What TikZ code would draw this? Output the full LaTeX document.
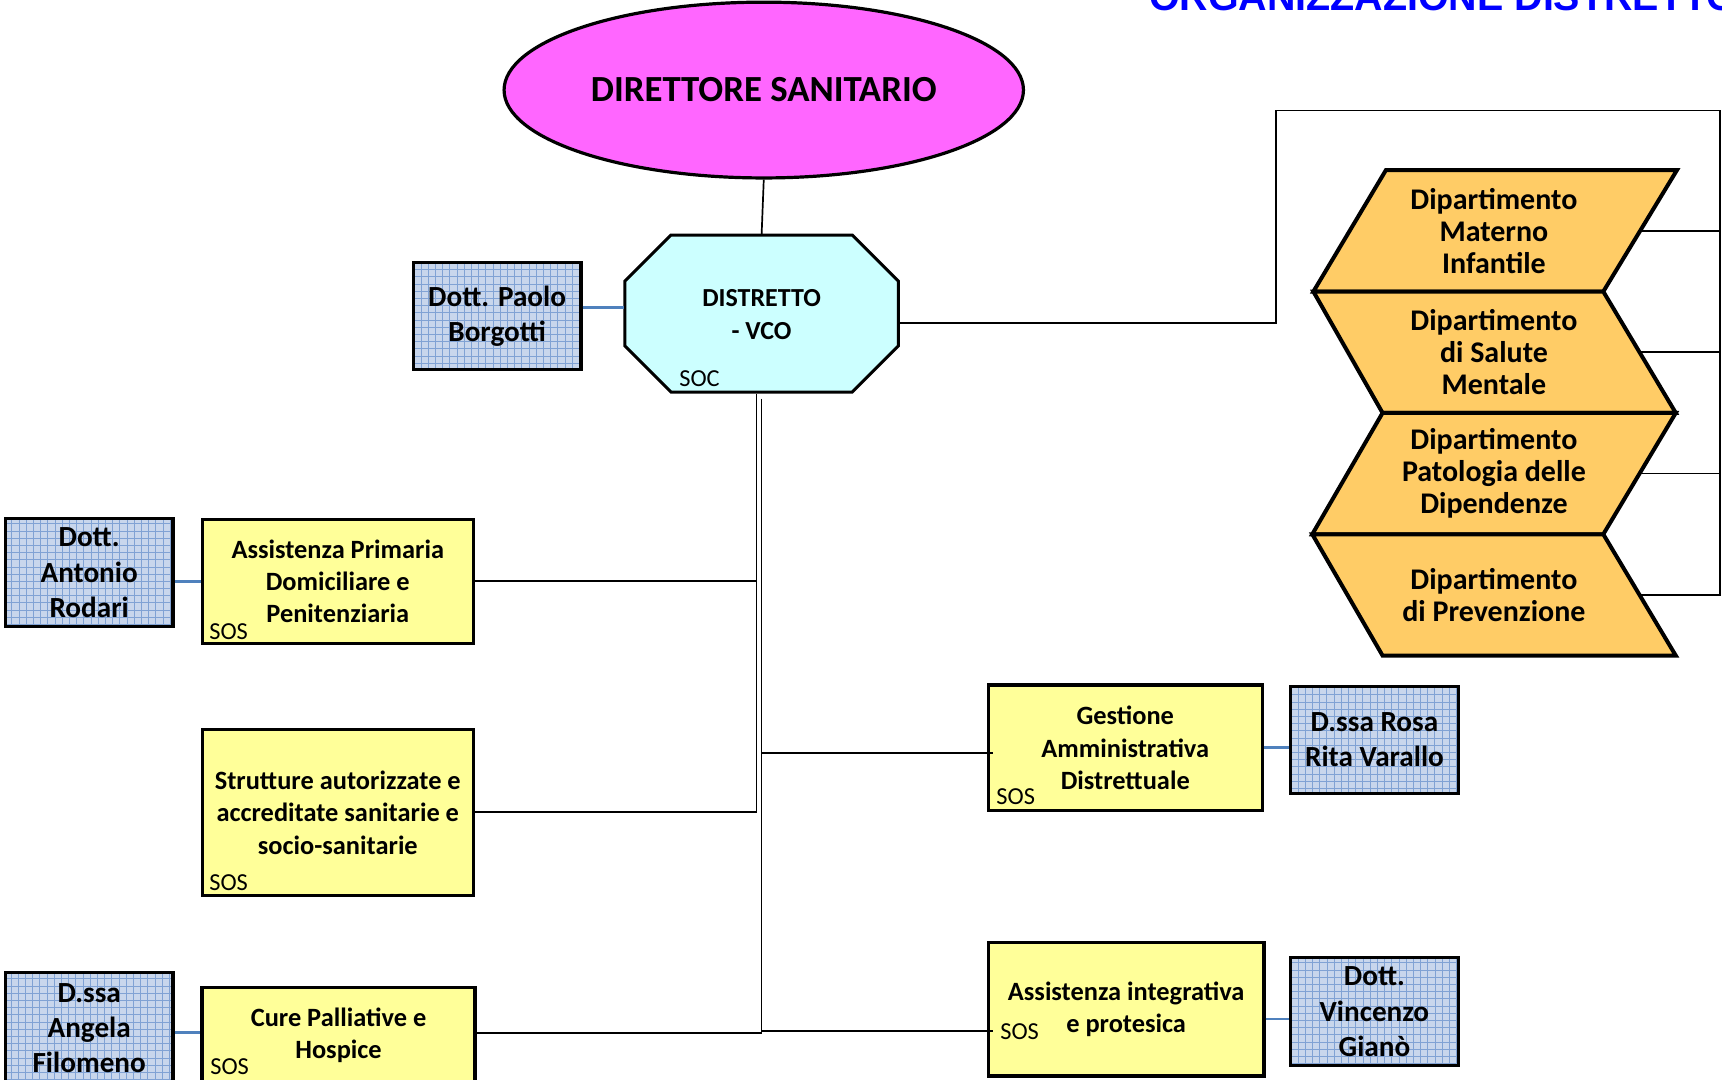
\documentclass[tikz,border=0pt]{standalone}
\usepackage{fontspec}
\setmainfont{Carlito}
\newfontfamily\titlefont{Liberation Sans}
\usetikzlibrary{shapes.geometric}

\definecolor{magentafill}{RGB}{255,102,255}
\definecolor{cyanfill}{RGB}{204,255,255}
\definecolor{yellowfill}{RGB}{255,255,153}
\definecolor{orangefill}{RGB}{255,204,102}
\definecolor{gridbg}{RGB}{200,214,236}
\definecolor{gridline}{RGB}{128,162,212}
\definecolor{linkblue}{RGB}{79,129,189}
\definecolor{titleblue}{RGB}{0,0,255}

\begin{document}
\begin{tikzpicture}[x=0.5491pt,y=-0.5491pt,
    conn/.style={line width=0.85pt},
    bconn/.style={linkblue,line width=1.4pt},
    ybox/.style={draw,line width=1.6pt,fill=yellowfill,align=center,inner sep=0pt,
        font=\bfseries\fontsize{13.2}{16.2}\selectfont},
    pbox/.style={draw,line width=1.6pt,fill=gridbg,align=center,inner sep=0pt,
        minimum width=83.9pt,font=\bfseries\fontsize{14.6}{17.6}\selectfont,
        path picture={\draw[gridline,line width=0.35pt] (path picture bounding box.south west)
            grid[step=3.6pt] (path picture bounding box.north east);}},
    dept/.style={draw,line width=2pt,fill=orangefill,line join=miter},
    dtext/.style={align=center,inner sep=0pt,minimum width=145.6pt,
        font=\bfseries\fontsize{15}{15.9}\selectfont},
    sos/.style={anchor=base west,inner sep=0pt,font=\fontsize{12.2}{14}\selectfont}]
    \useasboundingbox (0,0) rectangle (1568.1,983.4);

    \node[anchor=base west,inner sep=0pt,text=titleblue,font=\titlefont\bfseries\fontsize{19.7}{23}\selectfont] (title) at (1046,9.8) {ORGANIZZAZIONE DISTRETTO};

    \node[ellipse,draw,line width=1.6pt,fill=magentafill,minimum width=259.7pt,minimum height=87.9pt,
        font=\bfseries\fontsize{18.4}{22}\selectfont] (ds) at (695.5,82) {DIRETTORE SANITARIO};

    % distretto
    \draw[line width=1.5pt,fill=cyanfill] (611,214) -- (776,214) -- (818,256) -- (818,315) -- (776,357) -- (611,357) -- (569,315) -- (569,256) -- cycle;
    \node[align=center,inner sep=0pt,minimum width=136.7pt,minimum height=78.5pt,
        font=\bfseries\fontsize{13}{16.4}\selectfont] (dv) at (693.5,286.5) {DISTRETTO\\- VCO};
    \node[sos] (soc) at (618.3,352.1) {SOC};
    \draw[conn] (ds.south) -- (dv.north);

    \node[pbox,minimum height=53.3pt] (bo) at (452.7,287.9) {Dott. Paolo\\Borgotti};
    \coordinate (by) at ([yshift=4.3pt]bo.east);
    \draw[bconn] (by) -- (by -| dv.west);

    % dipartimenti
    \draw[dept] (1262,155) -- (1527,155) -- (1460,265.5) -- (1196,265.5) -- cycle;
    \node[dtext] (d1) at (1360.4,210.25) {Dipartimento\\Materno\\Infantile};
    \draw[dept] (1196,265.5) -- (1460,265.5) -- (1526,376) -- (1259,376) -- cycle;
    \node[dtext] (d2) at (1360.4,320.75) {Dipartimento\\di Salute\\Mentale};
    \draw[dept] (1259,376) -- (1526,376) -- (1460,486.5) -- (1195,486.5) -- cycle;
    \node[dtext] (d3) at (1360.4,431.25) {Dipartimento\\Patologia delle\\Dipendenze};
    \draw[dept] (1195,486.5) -- (1460,486.5) -- (1526,597) -- (1259,597) -- cycle;
    \node[dtext] (d4) at (1360.4,541.75) {Dipartimento\\di Prevenzione};

    \coordinate (fl) at (1162,100.5);
    \coordinate (fr) at (1566,100.5);
    \coordinate (dy) at ([yshift=-4.1pt]dv.east);
    \draw[conn] (dy) -| (fl) -- (fr) |- (d4.east);
    \draw[conn] (d1.east) -- (d1.east -| fr);
    \draw[conn] (d2.east) -- (d2.east -| fr);
    \draw[conn] (d3.east) -- (d3.east -| fr);

    % strutture
    \node[ybox,minimum width=135.5pt,minimum height=62pt] (ap) at (307.6,529.35) {Assistenza Primaria\\Domiciliare e\\Penitenziaria};
    \node[ybox,minimum width=135.5pt,minimum height=83.2pt] (sa) at (307.6,740) {Strutture autorizzate e\\accreditate sanitarie e\\socio-sanitarie};
    \node[ybox,minimum width=136.5pt,minimum height=47.9pt] (cp) at (308.3,943) {Cure Palliative e\\Hospice};
    \node[ybox,minimum width=136.9pt,minimum height=62.8pt] (ga) at (1024.7,681) {Gestione\\Amministrativa\\Distrettuale};
    \node[ybox,minimum width=137.8pt,minimum height=66.7pt] (ai) at (1025.5,919.1) {Assistenza integrativa\\e protesica};

    \node[pbox,minimum height=53.8pt] (ro) at (81.2,521.5) {Dott.\\Antonio\\Rodari};
    \node[pbox,minimum height=55.2pt] (fi) at (81.2,936) {D.ssa\\Angela\\Filomeno};
    \node[pbox,minimum height=53.6pt] (va) at (1251.6,673.6) {D.ssa Rosa\\Rita Varallo};
    \node[pbox,minimum height=53.9pt] (gi) at (1251.6,921.3) {Dott.\\Vincenzo\\Gianò};

    \node[sos] (s1) at (190.3,582) {SOS};
    \node[sos] (s2) at (190.3,810.5) {SOS};
    \node[sos] (s3) at (191.2,978) {SOS};
    \node[sos] (s4) at (907,733) {SOS};
    \node[sos] (s5) at (910.6,947) {SOS};

    % linee
    \coordinate (tl) at (689,739.25);
    \coordinate (tr) at (693.5,940.5);
    \draw[conn] (dv.south -| tl) -- (tl) -- (sa.east |- tl);
    \draw[conn] (ap.east) -- (ap.east -| tl);
    \draw[conn] ([yshift=-2.5pt]dv.south) -- (tr) -- (cp.east |- tr);
    \coordinate (gy) at ([yshift=-2.7pt]ga.west);
    \draw[conn] (gy -| tr) -- ([xshift=3pt]gy);
    \coordinate (iy) at ([yshift=-10.7pt]ai.west);
    \draw[conn] (iy -| tr) -- ([xshift=3pt]iy);

    \draw[bconn] (ro.east |- ap.west) -- (ap.west);
    \draw[bconn] (fi.east |- tr) -- (cp.west |- tr);
    \draw[bconn] (ga.east) -- (ga.east -| va.west);
    \coordinate (gv) at ([yshift=-3.6pt]gi.west);
    \draw[bconn] (gv -| ai.east) -- (gv);
\end{tikzpicture}
\end{document}
